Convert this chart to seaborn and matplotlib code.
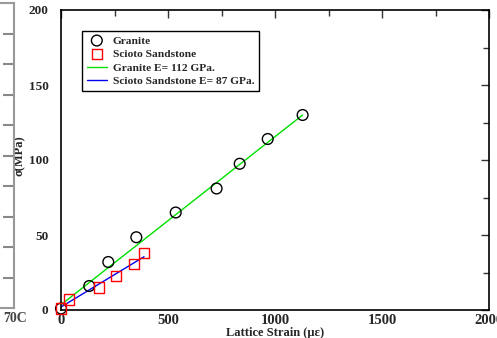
import numpy as np
import pandas as pd
import seaborn as sns
import matplotlib.pyplot as plt

# measured points
granite_strain = [0, 132, 221, 352, 536, 727, 835, 966, 1129]
granite_stress = [1, 16, 32, 48.5, 65, 81, 97.5, 114, 130]
sandstone_strain = [0, 36, 179, 257, 341, 388]
sandstone_stress = [1, 7, 15, 22.7, 30.5, 38]

# fitted lines (end points)
granite_fit_x = [0, 1129]
granite_fit_y = [3.5, 130]
sandstone_fit_x = [0, 388]
sandstone_fit_y = [2, 35.5]

legend_labels = ["Granite", "Scioto Sandstone", "Granite E= 112 GPa.", "Scioto Sandstone E= 87 GPa."]

sns.set_theme(style="white")
plt.rcParams["font.family"] = ["Liberation Serif", "DejaVu Serif"]
plt.rcParams["font.weight"] = "bold"

W, H = 497, 338
fig = plt.figure(figsize=(W / 100, H / 100), dpi=100)
ax = fig.add_axes([61 / W, 28 / H, 428 / W, 300 / H])

g = pd.DataFrame({"x": granite_strain, "y": granite_stress})
s = pd.DataFrame({"x": sandstone_strain, "y": sandstone_stress})
sns.lineplot(x=granite_fit_x, y=granite_fit_y, color="#00e000", lw=1, ax=ax, label=legend_labels[2])
sns.lineplot(x=sandstone_fit_x, y=sandstone_fit_y, color="#0000ee", lw=1, ax=ax, label=legend_labels[3])
sns.scatterplot(data=g, x="x", y="y", marker="o", s=60, facecolors="none", clip_on=False,
                edgecolor="black", linewidth=1, ax=ax, label=legend_labels[0], zorder=3)
sns.scatterplot(data=s, x="x", y="y", marker="s", s=55, facecolors="none", clip_on=False,
                edgecolor="red", linewidth=1, ax=ax, label=legend_labels[1], zorder=3)

ax.set_xlim(0, 2000)
ax.set_ylim(0, 200)
ax.set_xticks([0, 500, 1000, 1500, 2000])
ax.set_xticks([250, 750, 1250, 1750], minor=True)
ax.set_yticks([0, 50, 100, 150, 200])
ax.set_yticks([25, 75, 125, 175], minor=True)
ax.tick_params(which="both", direction="in", top=True, right=True, color="#333333")
ax.tick_params(axis="x", pad=3, labelsize=10.5)
ax.tick_params(axis="y", pad=9, labelsize=9.5)
ax.tick_params(which="major", length=6, width=1)
ax.tick_params(which="minor", length=4, width=1)
for lab in ax.get_xticklabels() + ax.get_yticklabels():
    lab.set_fontweight("bold")
for sp in ax.spines.values():
    sp.set_color("black")
    sp.set_linewidth(1.2)

ax.set_xlabel("Lattice Strain (\u03bc\u03b5)", fontsize=9, fontweight="bold", labelpad=0)
ax.set_ylabel("\u03c3(MPa)", fontsize=9, fontweight="bold")
ax.yaxis.set_label_coords(-35 / 428, 0.513)

h, l = ax.get_legend_handles_labels()
order = [l.index(x) for x in legend_labels]
leg = ax.legend([h[i] for i in order], [l[i] for i in order], loc="upper left",
                bbox_to_anchor=(21 / 428, 279 / 300), fontsize=8.2, frameon=True, fancybox=False,
                edgecolor="black", framealpha=1, borderpad=0.4, labelspacing=0.32,
                handlelength=1.8, handletextpad=0.5, borderaxespad=0)
leg.get_frame().set_linewidth(1)
for t in leg.get_texts():
    t.set_fontweight("bold")

# fragment of a neighbouring panel on the left edge
ax2 = fig.add_axes([-50 / W, 30 / H, 64 / W, 305 / H])
ax2.set_xlim(0, 1)
ax2.set_ylim(0, 10)
ax2.set_xticks([])
ax2.set_yticks(np.arange(1, 10))
ax2.tick_params(axis="y", left=False, right=True, direction="in", length=8, width=1.5,
                color="#888888", labelright=False, labelleft=False)
for sp in ax2.spines.values():
    sp.set_color("#999999")
    sp.set_linewidth(1.5)
fig.text(15 / W, 1 - 318 / H, "70C", fontsize=10, fontweight="bold", ha="center",
         va="center", color="#444444")

fig.savefig("out.png", dpi=100)
